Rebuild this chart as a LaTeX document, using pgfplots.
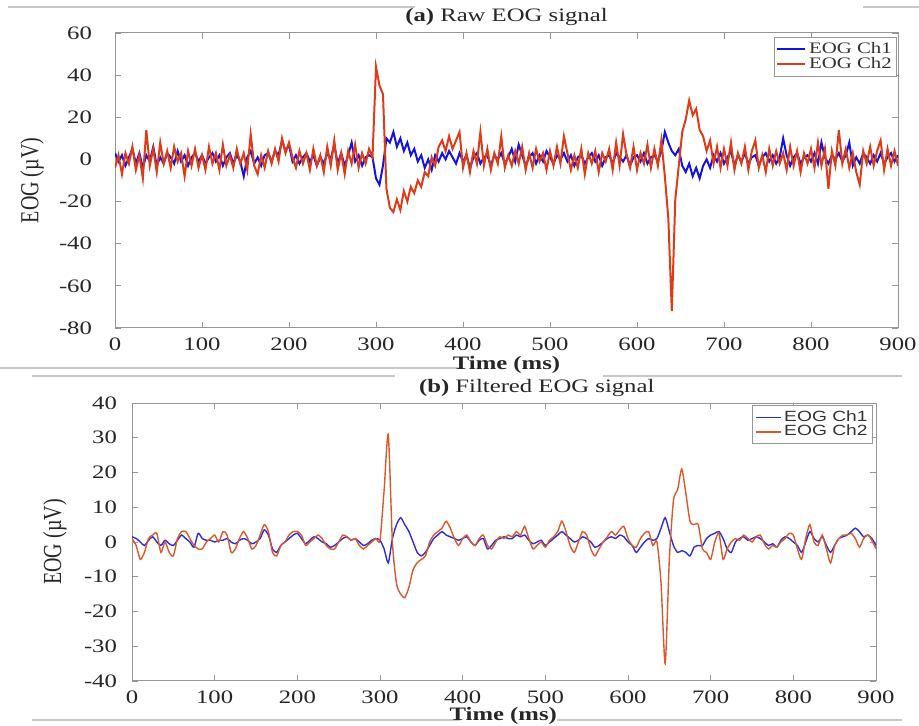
\documentclass[border=0pt]{standalone}
\usepackage{fontspec}
\setmainfont{Liberation Serif}[FakeStretch=1.3]
\newfontfamily\plainserif{Liberation Serif}
\newfontfamily\legsans{Liberation Sans}[FakeStretch=1.3]
\usepackage{graphicx}
\usepackage{pgfplots}
\usepackage{pgfplotstable}
\pgfplotsset{compat=1.18}

\definecolor{rawblue}{RGB}{20,20,225}
\definecolor{rawred}{RGB}{222,60,25}
\definecolor{filtblue}{RGB}{45,45,215}
\definecolor{filtred}{RGB}{215,90,45}
\definecolor{framegray}{RGB}{150,150,150}
\definecolor{sepgray}{RGB}{200,200,200}

\pgfplotstableread{
t b r
0 3 -4
4 -1 2
8 2 -7
12 -3 3
16 1 -2
20 5 6
24 -2 -5
28 3 2
32 -4 -9
36 2 14
40 -1 -3
44 6 5
48 -3 -6
52 1 8
56 -2 -2
60 3 4
64 1 -4
68 -2 6
72 4 -1
76 -1 3
80 2 -8
84 -3 4
88 1 -3
92 3 5
96 -1 -4
100 2 2
104 -2 -5
108 1 6
112 3 -2
116 -1 3
120 2 -5
124 -3 7
128 1 -3
132 3 2
136 -2 -4
140 2 5
144 -1 -2
148 -8 3
152 1 -5
156 4 12
160 -2 -3
164 1 -7
168 -3 2
172 2 -4
176 3 4
180 -1 -2
184 4 5
188 2 -1
192 9 10
196 4 3
200 7 8
204 -1 1
208 2 -4
212 -2 4
216 1 -2
220 3 3
224 -1 -5
228 2 5
232 -3 -3
236 1 2
240 -2 -6
244 3 6
248 0 -3
252 7 9
256 -2 -5
260 3 3
264 -3 -7
268 2 4
272 8 -2
276 -1 7
280 2 -4
284 -3 3
288 1 -2
292 2 5
296 1 1
300 -9 44
304 -12 35
308 -3 31
312 10 -14
316 8 -23
320 13 -25
324 6 -19
328 10 -24
332 4 -15
336 8 -20
340 2 -13
344 5 -16
348 -1 -10
352 2 -13
356 -4 -6
360 0 -8
364 -5 1
368 2 -3
372 -1 6
376 3 9
380 0 4
384 4 11
388 1 5
392 -2 9
396 3 13
400 -1 -4
404 2 3
408 -4 -6
412 1 4
416 3 -2
420 -2 13
424 1 -3
428 2 5
432 -3 -5
436 2 3
440 0 -2
444 3 11
448 -2 -4
452 1 2
456 5 -3
460 -1 4
464 7 -2
468 2 6
472 -3 -5
476 1 3
480 3 -4
484 -2 5
488 2 -1
492 -1 3
496 4 -5
500 1 4
504 -2 -3
508 2 6
512 0 -2
516 3 11
520 -1 3
524 2 -5
528 -3 2
532 1 -4
536 2 5
540 -2 -7
544 1 3
548 3 -2
552 -1 4
556 2 -6
560 -3 3
564 1 -1
568 2 5
572 -2 -5
576 3 8
580 1 -3
584 -1 12
588 2 2
592 -3 -4
596 1 6
600 2 -5
604 -1 3
608 3 -2
612 -2 7
616 1 -4
620 2 5
624 -1 -3
628 4 9
632 13 -8
636 8 -28
640 4 -72
644 2 -19
648 5 -3
652 -3 13
656 -6 19
660 -2 28
664 -8 21
668 -4 24
672 -9 14
676 -3 11
680 0 4
684 -4 9
688 2 -2
692 -1 6
696 3 -4
700 -2 5
704 1 -3
708 4 8
712 -3 -5
716 2 3
720 -1 -2
724 3 6
728 -2 -5
732 1 4
736 2 9
740 -3 -4
744 1 2
748 3 -6
752 -1 5
756 2 -3
760 -2 4
764 1 -2
768 10 3
772 2 -5
776 -3 6
780 1 -3
784 3 4
788 -2 -6
792 1 3
796 2 -2
800 -1 5
804 3 -4
808 -2 8
812 8 -3
816 1 5
820 -2 -14
824 2 4
828 0 -3
832 3 14
836 -1 -2
840 2 5
844 8 -4
848 -3 3
852 1 -6
856 -2 -12
860 3 4
864 1 -2
868 -2 6
872 2 -3
876 -1 4
880 3 9
884 -2 -5
888 1 5
892 3 -3
896 -1 4
900 2 -3
}\rawdata

\pgfplotstableread{
t b r
0 1.5 1
5 1 -1
10 0 -5
15 -1 -3
20 0.5 1
25 1.5 2
30 0 2.5
35 -1 -3
40 0.5 0
45 -0.5 -3
50 -1 -4
55 0.5 1
60 2 3
65 1 3
70 0 1
75 -1.5 -1
80 2.5 -2
85 1 -2
90 0.5 0
95 0.5 1
100 0 2
105 0.5 0
110 0.5 3
115 1 2
120 0 -3
125 -0.5 -2
130 0.5 1
135 1 3
140 0.5 1
145 -0.5 -2
150 0 -1
155 1 2
160 3.5 5
165 2 3
170 -2 -3
175 -3 -4
180 -1 -1
185 0 0
190 1 2
195 2 3
200 2.5 3
205 1 2
210 -0.5 -1
215 0.5 0
220 1.5 1
225 1 2
230 0 1
235 -0.5 -1
240 -1.5 -2
245 -1 -2
250 0 0
255 1 2
260 1.5 1.5
265 0.5 0.5
270 1 1
275 0 -1
280 -1 -2
285 -0.5 -1
290 0.5 0
295 1 1
300 0.5 0.5
305 -2 15
310 -6 31
315 1 0
320 5 -12
325 7 -15
330 5 -16
335 3 -13
340 0 -8
345 -3 -6
350 -4 -5
355 -3 -4
360 -1 0
365 1 2
370 2 3
375 3 4
380 2 6
385 1.5 4
390 1 1
395 0.5 -1
400 1 1
405 1.5 2
410 0 0
415 -1 -1
420 0.5 1
425 1 2
430 -2 -1
435 -1 -2
440 0.5 0
445 1 1.5
450 1.5 1
455 1 2
460 1 1.5
465 2 3
470 1.5 2
475 2 4.5
480 0.5 1
485 -0.5 -2
490 0 -1
495 0.5 0
500 -1 -1.5
505 0 0.5
510 1 1.5
515 2 3
520 3 6
525 2 3
530 1 -1
535 0 -3
540 0.5 0
545 1.5 3
550 1 2
555 0 -2
560 -1.5 -4
565 -1 -2
570 0 0
575 1 1.5
580 1.5 3
585 1 2
590 2 3.5
595 1.5 4.5
600 0 1
605 -1 -1
610 -3 -1.5
615 -1.5 1
620 0 2.5
625 1 3
630 0.5 -1
635 1 0
640 4 -12
645 7 -35
650 3 -5
655 -1 12
660 -3 15
665 -2.5 21
670 -3 14
675 -4 6
680 -1.5 5
685 -1 5
690 -1 -2
695 1 -3
700 2 -5
705 2.5 0
710 3 2.5
715 1 -5
720 -2 -2
725 -3 0
730 0 1
735 1 0.5
740 1.5 2
745 0.5 1
750 1 0
755 1.5 1.5
760 1 2
765 0 -0.5
770 -1 -2
775 -0.5 -1
780 -1.5 -1.5
785 0.5 0
790 1.5 1
795 1 2.5
800 0 2
805 -1 -2
810 -3 -5
815 0 1
820 3 5
825 1 0
830 0 -1
835 1.5 2
840 -1 -2
845 -3 -6
850 -1 -1
855 1 1
860 1.5 2
865 2 2
870 3 2.5
875 4 1
880 3 -1.5
885 1.5 1
890 2 2
895 1 0.5
900 -1 -2
}\filtdata

\pgfplotsset{
  eogaxis/.style={
    scale only axis,
    anchor=south west,
    xmin=0, xmax=900,
    xtick={0,100,...,900},
    tick align=inside,
    tick pos=both,
    axis line style={framegray, line width=0.5pt},
    every tick/.style={framegray, line width=0.4pt},
    major tick length=3pt,
    /pgf/number format/assume math mode=true,
    ticklabel style={font=\fontsize{9.5}{11}\selectfont, text=black!85},
    xticklabel style={yshift=-1.5pt},
    legend cell align=left,
    legend image code/.code={\draw[##1] (0pt,0pt) -- (14pt,0pt);},
    xlabel style={font=\fontsize{9.5}{11}\selectfont, anchor=center, yshift=0pt, text=black!85},
    ylabel style={font=\fontsize{10}{12}\selectfont, anchor=center, text=black!85},
  }
}

\begin{document}
\begin{tikzpicture}
\path[use as bounding box] (0,0) rectangle (459.5pt,363pt);

% separator lines (scan artefacts of the source figure)
\draw[sepgray, line width=0.6pt] (4pt,359.5pt) -- (207.5pt,359.5pt);
\draw[sepgray, line width=0.6pt] (431.5pt,359.5pt) -- (459.5pt,359.5pt);
\draw[sepgray, line width=0.6pt] (0pt,179pt) -- (230pt,179pt);
\draw[sepgray, line width=0.6pt] (16pt,175pt) -- (197.5pt,175pt);
\draw[sepgray, line width=0.6pt] (301.5pt,175pt) -- (451pt,175pt);
\draw[sepgray, line width=0.6pt] (16pt,3pt) -- (230pt,3pt);
\draw[sepgray, line width=0.6pt] (278.5pt,3pt) -- (451pt,3pt);

\begin{axis}[eogaxis,
  at={(57.5pt,199pt)},
  width=391.5pt, height=147.5pt,
  ymin=-80, ymax=60, ytick={-80,-60,...,60},
  yticklabel style={xshift=-8pt},
  title={\textbf{(a)} Raw EOG signal},
  every axis title/.style={at={(axis description cs:0.5,1.054)}, anchor=center,
    font=\fontsize{9.5}{11}\selectfont, text=black!85},
  xlabel={\textbf{Time (ms)}},
  xlabel style={at={(axis description cs:0.5,-0.126)}},
  ylabel={\plainserif\scalebox{1}[1.3]{EOG (µV)}},
  ylabel style={at={(axis description cs:-0.106,0.5)}},
  legend style={at={(0.999,0.987)}, anchor=north east, draw=framegray,
    font=\fontsize{8}{9}\selectfont, inner sep=1pt, row sep=-2.5pt,
    nodes={inner sep=1.5pt, text=black!80}},
]
\addplot[rawblue, line width=1pt] table[x=t, y=b]{\rawdata};
\addlegendentry{EOG Ch1}
\addplot[rawred, line width=1pt] table[x=t, y=r]{\rawdata};
\addlegendentry{EOG Ch2}
\end{axis}

\begin{axis}[eogaxis,
  at={(66pt,22.5pt)},
  width=372pt, height=139pt,
  ymin=-40, ymax=40, ytick={-40,-30,...,40},
  yticklabel style={xshift=-4pt},
  title={\textbf{(b)} Filtered EOG signal},
  every axis title/.style={at={(axis description cs:0.544,1.054)}, anchor=center,
    font=\fontsize{9.5}{11}\selectfont, text=black!85},
  xlabel={\textbf{Time (ms)}},
  xlabel style={at={(axis description cs:0.499,-0.126)}},
  ylabel={\plainserif\scalebox{1}[1.3]{EOG (µV)}},
  ylabel style={at={(axis description cs:-0.1035,0.5)}},
  legend style={at={(0.996,0.993)}, anchor=north east, draw=framegray,
    font=\legsans\fontsize{7.4}{9}\selectfont, inner sep=1pt, row sep=-2.5pt,
    nodes={inner sep=1.5pt, text=black!80}},
  legend image code/.code={\draw[#1] (0pt,0pt) -- (12.5pt,0pt);},
]
\addplot[filtblue, line width=0.7pt, smooth, tension=0.4] table[x=t, y=b]{\filtdata};
\addlegendentry{EOG Ch1}
\addplot[filtred, line width=0.7pt, smooth, tension=0.4] table[x=t, y=r]{\filtdata};
\addlegendentry{EOG Ch2}
\end{axis}
\end{tikzpicture}
\end{document}
